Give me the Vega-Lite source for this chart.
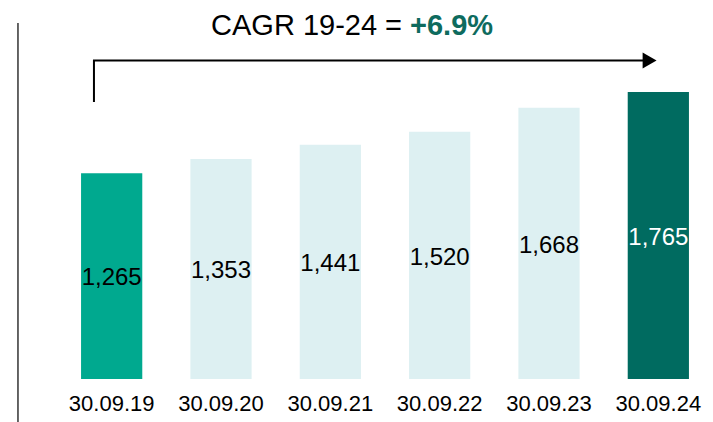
{
  "$schema": "https://vega.github.io/schema/vega-lite/v6.json",
  "width": 656,
  "height": 379,
  "autosize": {"type": "none"},
  "padding": {"left": 57, "top": 0, "right": 0, "bottom": 43},
  "background": "white",
  "config": {"view": {"stroke": null}, "font": "Liberation Sans"},
  "datasets": {
    "bars": [
      {"date": "30.09.19", "value": 1265, "kind": "first"},
      {"date": "30.09.20", "value": 1353, "kind": "mid"},
      {"date": "30.09.21", "value": 1441, "kind": "mid"},
      {"date": "30.09.22", "value": 1520, "kind": "mid"},
      {"date": "30.09.23", "value": 1668, "kind": "mid"},
      {"date": "30.09.24", "value": 1765, "kind": "last"}
    ],
    "arrow": [
      {"pos": 0.338, "level": 1704, "order": 1},
      {"pos": 0.338, "level": 1959, "order": 2},
      {"pos": 5.36, "level": 1959, "order": 3}
    ],
    "head": [{"pos": 5.42, "level": 1959}],
    "frame": [{"pos": -0.357, "top": 2189, "bottom": -264}],
    "title": [{"lead": "CAGR 19-24 =", "rate": "+6.9%"}]
  },
  "resolve": {"scale": {"x": "independent", "y": "independent", "color": "independent"}},
  "layer": [
    {
      "data": {"name": "bars"},
      "mark": {"type": "bar"},
      "encoding": {
        "x": {"field": "date", "type": "ordinal", "scale": {"paddingInner": 0.44, "paddingOuter": 0.22},
          "axis": {"title": null, "labelAngle": 0, "domain": false, "ticks": false, "labelPadding": 14, "labelFontSize": 22, "labelColor": "#000000", "labelFont": "Liberation Sans"}},
        "y": {"field": "value", "type": "quantitative", "scale": {"domain": [0, 2331], "nice": false}, "axis": null},
        "color": {"field": "kind", "type": "nominal", "scale": {"domain": ["first", "mid", "last"], "range": ["#00A98F", "#DDF0F2", "#006B60"]}, "legend": null}
      }
    },
    {
      "data": {"name": "bars"},
      "mark": {"type": "text", "fontSize": 24, "baseline": "middle", "align": "center"},
      "encoding": {
        "x": {"field": "date", "type": "ordinal", "scale": {"paddingInner": 0.44, "paddingOuter": 0.22}, "axis": null},
        "y": {"field": "value", "type": "quantitative", "scale": {"domain": [0, 4750], "nice": false}, "axis": null},
        "text": {"field": "value", "type": "quantitative", "format": ",.0f"},
        "color": {"field": "kind", "type": "nominal", "scale": {"domain": ["first", "mid", "last"], "range": ["#000000", "#000000", "#FFFFFF"]}, "legend": null}
      }
    },
    {
      "data": {"name": "arrow"},
      "mark": {"type": "line", "color": "#000000", "strokeWidth": 2, "strokeCap": "butt", "strokeJoin": "miter"},
      "encoding": {
        "x": {"field": "pos", "type": "quantitative", "scale": {"domain": [0, 6], "nice": false, "zero": false}, "axis": null},
        "y": {"field": "level", "type": "quantitative", "scale": {"domain": [0, 2331], "nice": false}, "axis": null},
        "order": {"field": "order"}
      }
    },
    {
      "data": {"name": "head"},
      "mark": {"type": "point", "shape": "triangle-right", "filled": true, "color": "#000000", "size": 260, "opacity": 1},
      "encoding": {
        "x": {"field": "pos", "type": "quantitative", "scale": {"domain": [0, 6], "nice": false, "zero": false}, "axis": null},
        "y": {"field": "level", "type": "quantitative", "scale": {"domain": [0, 2331], "nice": false}, "axis": null}
      }
    },
    {
      "data": {"name": "frame"},
      "mark": {"type": "rule", "color": "#333333", "strokeWidth": 1.5},
      "encoding": {
        "x": {"field": "pos", "type": "quantitative", "scale": {"domain": [0, 6], "nice": false, "zero": false}, "axis": null},
        "y": {"field": "top", "type": "quantitative", "scale": {"domain": [0, 2331], "nice": false}, "axis": null},
        "y2": {"field": "bottom"}
      }
    },
    {
      "data": {"name": "title"},
      "mark": {"type": "text", "fontSize": 29, "align": "right", "baseline": "alphabetic", "color": "#000000"},
      "encoding": {
        "x": {"datum": 3.156, "type": "quantitative", "scale": {"domain": [0, 6], "nice": false, "zero": false}, "axis": null},
        "y": {"datum": 2116, "type": "quantitative", "scale": {"domain": [0, 2331], "nice": false}, "axis": null},
        "text": {"field": "lead"}
      }
    },
    {
      "data": {"name": "title"},
      "mark": {"type": "text", "fontSize": 29, "fontWeight": "bold", "align": "left", "baseline": "alphabetic", "color": "#0E6B5E"},
      "encoding": {
        "x": {"datum": 3.229, "type": "quantitative", "scale": {"domain": [0, 6], "nice": false, "zero": false}, "axis": null},
        "y": {"datum": 2116, "type": "quantitative", "scale": {"domain": [0, 2331], "nice": false}, "axis": null},
        "text": {"field": "rate"}
      }
    }
  ]
}
